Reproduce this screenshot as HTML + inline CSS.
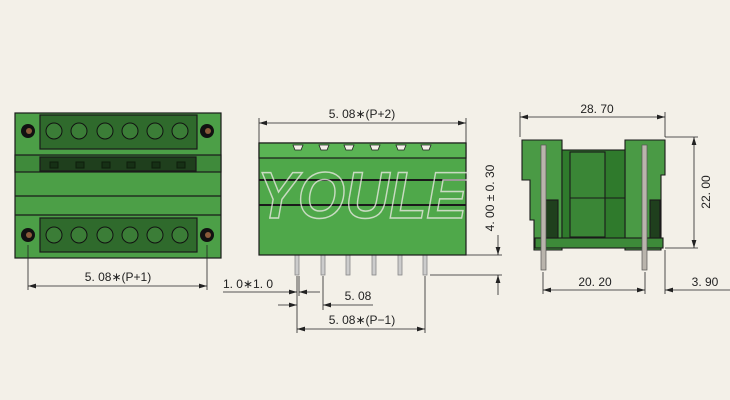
<!DOCTYPE html>
<html><head><meta charset="utf-8"><style>
body{margin:0;background:#f3f0e8;}
svg{display:block;font-family:"Liberation Sans",sans-serif;}
</style></head><body>
<svg width="730" height="400" viewBox="0 0 730 400" xmlns="http://www.w3.org/2000/svg">
<defs>
<marker id="a" markerWidth="10" markerHeight="6" refX="10" refY="3" orient="auto-start-reverse"><path d="M0,0 L10,3 L0,6z" fill="#222"/></marker>
</defs>
<rect width="730" height="400" fill="#f3f0e8"/>
<!-- LEFT VIEW -->
<g stroke="#1a1a1a" stroke-width="1.2">
<rect x="15" y="113" width="206" height="145" fill="#4c9f47"/>
<rect x="15" y="155" width="206" height="17" fill="#3f8a3b"/>
<rect x="40" y="157" width="156" height="14" fill="#1f3f1d"/>
<line x1="15" y1="196" x2="221" y2="196"/>
<line x1="15" y1="215" x2="221" y2="215"/>
<rect x="40" y="115" width="157" height="34" fill="#2f6a2c"/>
<rect x="40" y="218" width="157" height="34" fill="#2f6a2c"/>
</g>
<g fill="#163015" stroke="#0d1d0c">
<rect x="50" y="162" width="8" height="6"/><rect x="76" y="162" width="8" height="6"/><rect x="102" y="162" width="8" height="6"/><rect x="127" y="162" width="8" height="6"/><rect x="152" y="162" width="8" height="6"/><rect x="177" y="162" width="8" height="6"/>
</g>
<g fill="#3b7d37" stroke="#111" stroke-width="1">
<circle cx="54" cy="131" r="8"/><circle cx="79" cy="131" r="8"/><circle cx="105" cy="131" r="8"/><circle cx="130" cy="131" r="8"/><circle cx="155" cy="131" r="8"/><circle cx="180" cy="131" r="8"/>
<circle cx="54" cy="235" r="8"/><circle cx="79" cy="235" r="8"/><circle cx="105" cy="235" r="8"/><circle cx="130" cy="235" r="8"/><circle cx="155" cy="235" r="8"/><circle cx="180" cy="235" r="8"/>
</g>
<g fill="#111"><circle cx="28" cy="131" r="7"/><circle cx="207" cy="131" r="7"/><circle cx="28" cy="235" r="7"/><circle cx="207" cy="235" r="7"/></g>
<g fill="#8a5a3a"><circle cx="29" cy="131" r="3"/><circle cx="208" cy="131" r="3"/><circle cx="29" cy="235" r="3"/><circle cx="208" cy="235" r="3"/></g>
<g stroke="#222" stroke-width="0.8" fill="none">
<line x1="28" y1="245" x2="28" y2="290"/><line x1="207" y1="245" x2="207" y2="290"/>
<line x1="28" y1="286" x2="207" y2="286" marker-start="url(#a)" marker-end="url(#a)"/>
</g>
<text x="118" y="281" font-size="12" text-anchor="middle" fill="#222">5. 08∗(P+1)</text>

<!-- MIDDLE VIEW -->
<g stroke="#888" fill="#ccc" stroke-width="0.8">
<rect x="295" y="255" width="4" height="20"/><rect x="321" y="255" width="4" height="20"/><rect x="346" y="255" width="4" height="20"/><rect x="372" y="255" width="4" height="20"/><rect x="398" y="255" width="4" height="20"/><rect x="423" y="255" width="4" height="20"/>
</g>
<g stroke="#1a1a1a" stroke-width="1.2">
<rect x="259" y="143" width="207" height="112" fill="#4fa84a"/>
<rect x="259" y="143" width="207" height="15" fill="#5ab454"/>
<line x1="259" y1="180" x2="466" y2="180" stroke-width="2"/>
<line x1="259" y1="205" x2="466" y2="205" stroke-width="2"/>
</g>
<g fill="#f3f0e8" stroke="#222" stroke-width="0.8">
<path d="M293,145h10l-2,5h-6z"/><path d="M319,145h10l-2,5h-6z"/><path d="M344,145h10l-2,5h-6z"/><path d="M370,145h10l-2,5h-6z"/><path d="M396,145h10l-2,5h-6z"/><path d="M421,145h10l-2,5h-6z"/>
</g>
<text x="362" y="218" font-size="66" font-style="italic" font-weight="bold" text-anchor="middle" fill="none" stroke="#e8e8e0" stroke-width="1.5" opacity="0.8" textLength="210" lengthAdjust="spacingAndGlyphs">YOULE</text>
<g stroke="#222" stroke-width="0.8" fill="none">
<line x1="259" y1="143" x2="259" y2="118"/><line x1="466" y1="143" x2="466" y2="118"/>
<line x1="259" y1="123" x2="466" y2="123" marker-start="url(#a)" marker-end="url(#a)"/>
<line x1="466" y1="255" x2="502" y2="255"/><line x1="430" y1="275" x2="502" y2="275"/>
<line x1="498" y1="235" x2="498" y2="255" marker-end="url(#a)"/>
<line x1="498" y1="295" x2="498" y2="275" marker-end="url(#a)"/>
<line x1="297" y1="276" x2="297" y2="333"/><line x1="299" y1="276" x2="299" y2="296"/><line x1="323" y1="276" x2="323" y2="310"/><line x1="425" y1="276" x2="425" y2="333"/>
<line x1="223" y1="292" x2="297" y2="292" marker-end="url(#a)"/>
<line x1="320" y1="292" x2="299" y2="292" marker-end="url(#a)"/>
<line x1="278" y1="305" x2="297" y2="305" marker-end="url(#a)"/>
<line x1="373" y1="305" x2="323" y2="305" marker-end="url(#a)"/>
<line x1="297" y1="329" x2="425" y2="329" marker-start="url(#a)" marker-end="url(#a)"/>
</g>
<text x="362" y="118" font-size="12" text-anchor="middle" fill="#222">5. 08∗(P+2)</text>
<text x="248" y="288" font-size="12" text-anchor="middle" fill="#222">1. 0∗1. 0</text>
<text x="358" y="300" font-size="12" text-anchor="middle" fill="#222">5. 08</text>
<text x="362" y="324" font-size="12" text-anchor="middle" fill="#222">5. 08∗(P−1)</text>
<text transform="translate(494,198) rotate(-90)" font-size="12" text-anchor="middle" fill="#222">4. 00 ± 0. 30</text>

<!-- RIGHT VIEW -->
<g stroke="#1a1a1a" stroke-width="1.1">
<path d="M522,140 h40 v110 h-28 v-30 h-4 v-40 h-8 z" fill="#4a9a45"/>
<path d="M625,140 h40 v35 h-4 v75 h-36 z" fill="#4a9a45"/>
<rect x="562" y="150" width="63" height="95" fill="#2f7a2c"/>
<rect x="570" y="152" width="35" height="85" fill="#3a8636"/>
<line x1="570" y1="198" x2="625" y2="198"/>
<rect x="535" y="238" width="128" height="10" fill="#3d8a39"/>
<rect x="545" y="200" width="13" height="38" fill="#1f3f1d"/>
<rect x="650" y="200" width="10" height="38" fill="#1f3f1d"/>
</g>
<g stroke="#555" fill="#b9b4ac" stroke-width="0.7">
<rect x="541" y="145" width="5" height="125"/><rect x="642" y="145" width="5" height="125"/>
</g>
<g stroke="#222" stroke-width="0.8" fill="none">
<line x1="520" y1="137" x2="520" y2="112"/><line x1="665" y1="137" x2="665" y2="112"/>
<line x1="520" y1="117" x2="665" y2="117" marker-start="url(#a)" marker-end="url(#a)"/>
<line x1="665" y1="137" x2="698" y2="137"/><line x1="665" y1="248" x2="698" y2="248"/>
<line x1="694" y1="137" x2="694" y2="248" marker-start="url(#a)" marker-end="url(#a)"/>
<line x1="543" y1="272" x2="543" y2="294"/><line x1="645" y1="272" x2="645" y2="294"/><line x1="665" y1="250" x2="665" y2="294"/>
<line x1="543" y1="290" x2="645" y2="290" marker-start="url(#a)" marker-end="url(#a)"/>
<line x1="730" y1="290" x2="665" y2="290" marker-end="url(#a)"/>
</g>
<text x="597" y="113" font-size="12" text-anchor="middle" fill="#222">28. 70</text>
<text transform="translate(710,192) rotate(-90)" font-size="12" text-anchor="middle" fill="#222">22. 00</text>
<text x="595" y="286" font-size="12" text-anchor="middle" fill="#222">20. 20</text>
<text x="705" y="286" font-size="12" text-anchor="middle" fill="#222">3. 90</text>
</svg>
</body></html>
